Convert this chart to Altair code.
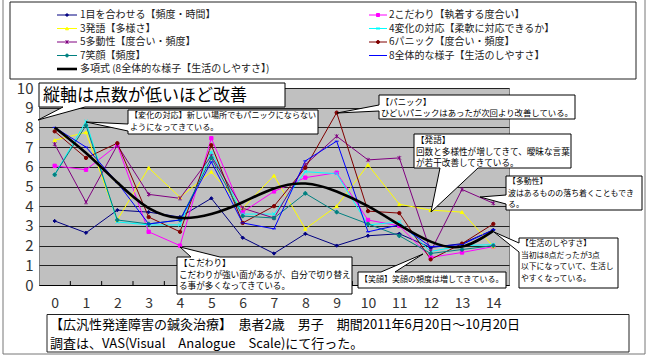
import altair as alt
import pandas as pd

# ---------------- data ----------------
X = list(range(15))
NAMES = [
    "1目を合わせる【頻度・時間】",
    "2こだわり【執着する度合い】",
    "3発語【多様さ】",
    "4変化の対応【柔軟に対応できるか】",
    "5多動性【度合い・頻度】",
    "6パニック【度合い・頻度】",
    "7笑顔【頻度】",
    "8全体的な様子【生活のしやすさ】",
]
TREND_NAME = "多項式 (8全体的な様子【生活のしやすさ】)"
COLORS = ["#000080", "#FF00FF", "#FFFF00", "#00FFFF", "#800080", "#800000", "#008080", "#0000FF"]
SHAPES = ["diamond", "square", "triangle-up", "M-1,-1L1,1M-1,1L1,-1",
          "M-1,-1L1,1M-1,1L1,-1M0,-1.3L0,1.3", "circle", "cross", "M-1.2,0L1.2,0"]

S1 = [3.25, 2.65, 3.8, 3.7, 3.45, 4.4, 2.4, 1.6, 2.6, 2.0, 2.5, 2.6, 1.9, 2.1, 2.8]
S2 = [6.05, 5.85, 7.1, 2.7, 2.0, 7.45, 3.7, 4.75, 5.45, 5.7, 3.3, 3.0, 1.4, 1.65, 1.95]
S3 = [7.35, 7.75, 3.3, 5.95, 4.45, 5.75, 3.9, 5.55, 2.85, 4.0, 6.1, 4.1, 3.8, 3.7, 1.95]
S4 = [5.6, 8.3, 3.2, 3.05, 3.05, 6.75, 3.6, 3.6, 5.75, 5.65, 3.05, 3.2, 1.7, 2.0, 2.05]
S5 = [7.15, 4.2, 7.1, 4.6, 4.4, 6.55, 3.9, 3.4, 6.1, 7.55, 6.35, 6.45, 1.7, 4.85, 4.15]
S6 = [7.8, 6.45, 7.2, 3.45, 2.7, 7.1, 3.15, 4.0, 5.95, 8.75, 3.75, 3.65, 1.3, 2.1, 3.1]
S7 = [5.6, 8.1, 3.3, 3.1, 3.3, 6.45, 3.5, 3.4, 4.65, 3.7, 3.1, 2.5, 1.6, 1.8, 2.0]
S8 = [8.0, 7.0, 5.2, 3.1, 3.3, 6.25, 3.15, 2.85, 6.3, 7.3, 2.7, 3.05, 1.95, 2.05, 2.8]
SERIES = [S1, S2, S3, S4, S5, S6, S7, S8]
TREND = [8.0, 6.7, 5.2, 3.9, 3.4, 3.6, 4.2, 4.9, 5.15, 4.75, 4.0, 3.05, 2.2, 1.95, 2.75]
YTICKS = list(range(11))

LEGEND_LABELS = NAMES + [TREND_NAME]

TITLE_TEXT = "縦軸は点数が低いほど改善"
BOTTOM_LINES = ["【広汎性発達障害の鍼灸治療】　患者2歳　男子　期間2011年6月20日～10月20日",
                "調査は、VAS(Visual　Analogue　Scale)にて行った。"]
NOTE_HENKA = ["【変化の対応】新しい場所でもパニックにならない", "ようになってきている。"]
NOTE_PANIC = ["【パニック】", "ひどいパニックはあったが次回より改善している。"]
NOTE_HATSUGO = ["【発語】", "回数と多様性が増してきて、曖昧な言葉", "が若干改善してきている。"]
NOTE_TADOU = ["【多動性】", "波はあるものの落ち着くこともでき", "る。"]
NOTE_KODAWARI = ["【こだわり】", "こだわりが強い面があるが、自分で切り替え", "る事が多くなってきている。"]
NOTE_EGAO = ["【笑顔】笑顔の頻度は増してきている。"]
NOTE_SEIKATSU = ["【生活のしやすさ】", "当初は8点だったが3点", "以下になっていて、生活し", "やすくなっている。"]

# ---------------- layout ----------------
W, H = 650, 357
PL, PT, PW, PH = 39, 88, 470, 197
FONT = "Noto Sans CJK JP"


def fx(px):
    return -0.5 + (px - PL) / PW * 15


def fy(py):
    return (PT + PH - py) / PH * 10


xs = alt.Scale(domain=[-0.5, 14.5], nice=False, zero=False)
ys = alt.Scale(domain=[0, 10], nice=False, zero=False)
x_axis = alt.Axis(values=X, title=None, ticks=False, grid=False, labelFontSize=14,
                  labelPadding=11, domainColor="black", labelColor="#333",
                  labelFont=FONT, labelAngle=0, format="d")
y_axis = alt.Axis(values=YTICKS, title=None, ticks=False, domain=False, grid=True,
                  gridColor="#222", gridWidth=1, labelFontSize=15, labelPadding=6,
                  labelColor="#333", labelFont=FONT, format="d")


def EX(f="x"):
    return alt.X(f + ":Q", scale=xs, axis=x_axis, title=None)


def EY(f="v"):
    return alt.Y(f + ":Q", scale=ys, axis=y_axis, title=None)


# series data
rows = []
for name, vals in zip(NAMES, SERIES):
    for x, v in zip(X, vals):
        rows.append({"series": name, "x": x, "v": v})
df = pd.DataFrame(rows)
df_tr = pd.DataFrame({"x": X, "v": TREND})

cscale = alt.Scale(domain=NAMES, range=COLORS)
sscale = alt.Scale(domain=NAMES, range=SHAPES)

lines = alt.Chart(df).mark_line(strokeWidth=1).encode(
    x=EX(), y=EY(), color=alt.Color("series:N", scale=cscale, legend=None),
    detail="series:N")
points = alt.Chart(df).mark_point(filled=True, size=11, strokeWidth=1, opacity=1).encode(
    x=EX(), y=EY(),
    fill=alt.Fill("series:N", scale=cscale, legend=None),
    stroke=alt.Stroke("series:N", scale=cscale, legend=None),
    shape=alt.Shape("series:N", scale=sscale, legend=None))
trend = alt.Chart(df_tr).mark_line(color="black", strokeWidth=2.6, interpolate="natural").encode(
    x=EX(), y=EY())

# inner category ticks
df_ticks = pd.DataFrame({"x": [k + 0.5 for k in range(14)], "v": [0] * 14, "v2": [0.2] * 14})
ticks = alt.Chart(df_ticks).mark_rule(color="black", strokeWidth=1).encode(
    x=EX(), y=EY(), y2="v2:Q")

# callouts (box + wedge polygons), pixel geometry
CALLOUTS = {
    "title": [(39, 83), (285, 83), (285, 107), (85, 107), (38, 120), (63, 107), (39, 107)],
    "henka": [(128, 110), (318, 110), (318, 134), (128, 134), (128, 131), (86, 122), (128, 124)],
    "panic": [(379, 95), (575, 95), (575, 119), (379, 119), (379, 111), (337, 113), (379, 105)],
    "hatsugo": [(414, 134), (571, 134), (571, 168), (478, 168), (431, 212), (440, 168), (414, 168)],
    "tadou": [(506, 176), (642, 176), (642, 210), (506, 210), (506, 204), (480, 197), (506, 195)],
    "kodawari": [(177, 257), (191, 257), (180, 247), (220, 257), (352, 257), (352, 294), (177, 294)],
    "egao": [(358, 272), (381, 272), (423, 254), (395, 272), (506, 272), (506, 288), (358, 288)],
    "seikatsu": [(519, 238), (618, 238), (618, 288), (519, 288), (519, 252), (494, 232), (519, 243)],
}
prow = []
for cid, pts in CALLOUTS.items():
    for i, (px, py) in enumerate(pts):
        prow.append({"cid": cid, "ord": i, "x": fx(px), "v": fy(py)})
df_poly = pd.DataFrame(prow)
callouts = alt.Chart(df_poly).mark_line(interpolate="linear-closed", fill="white",
                                        stroke="black", strokeWidth=1).encode(
    x=EX(), y=EY(), detail="cid:N", order="ord:Q")

# rectangles: outer frame, legend box, bottom box
df_frame = pd.DataFrame([{"x": fx(3), "x2": fx(645), "v": fy(-5), "v2": fy(354)}])
frame = alt.Chart(df_frame).mark_rect(fillOpacity=0, stroke="#777", strokeWidth=1).encode(
    x=EX(), x2="x2:Q", y=EY(), y2="v2:Q")
df_boxes = pd.DataFrame([
    {"x": fx(10), "x2": fx(636), "v": fy(2), "v2": fy(79)},
    {"x": fx(47), "x2": fx(629), "v": fy(314.5), "v2": fy(352)},
])
boxes = alt.Chart(df_boxes).mark_rect(fill="white", stroke="#222", strokeWidth=1).encode(
    x=EX(), x2="x2:Q", y=EY(), y2="v2:Q")

# legend
ROW_Y = [15, 28.5, 42, 55.5, 69]
lrows = []
for i, lab in enumerate(LEGEND_LABELS):
    col, row = i % 2, i // 2
    x0, x1, xt = (57, 77, 80) if col == 0 else (369, 387, 389)
    is_tr = i == len(NAMES)
    lrows.append({"label": lab, "x": fx(x0), "x2": fx(x1), "xm": fx((x0 + x1) / 2),
                  "xt": fx(xt), "v": fy(ROW_Y[row]),
                  "color": "black" if is_tr else COLORS[i],
                  "shape": "circle" if is_tr else SHAPES[i],
                  "sw": 2.6 if is_tr else 1.0})
df_leg = pd.DataFrame(lrows)
leg_lines = alt.Chart(df_leg).mark_rule().encode(
    x=EX(), x2="x2:Q", y=EY(), color=alt.Color("color:N", scale=None),
    strokeWidth=alt.StrokeWidth("sw:Q", scale=None))
leg_pts = alt.Chart(df_leg.iloc[:len(NAMES)]).mark_point(filled=True, size=9, strokeWidth=1, opacity=1).encode(
    x=EX("xm"), y=EY(), fill=alt.Fill("color:N", scale=None),
    stroke=alt.Stroke("color:N", scale=None), shape=alt.Shape("shape:N", scale=None))
leg_text = alt.Chart(df_leg).mark_text(align="left", baseline="middle", font=FONT,
                                       fontSize=10, color="#222").encode(
    x=EX("xt"), y=EY(), text="label:N")

# texts
TEXTS = []


def add_lines(lines_, x0, y0, dy, fs):
    for k, t in enumerate(lines_):
        TEXTS.append({"t": t, "x": fx(x0), "v": fy(y0 + k * dy), "fs": fs})


add_lines([TITLE_TEXT], 43, 95.5, 0, 17)
add_lines(NOTE_HENKA, 130, 116, 12, 8.1)
add_lines(NOTE_PANIC, 381, 102, 11, 8.4)
add_lines(NOTE_HATSUGO, 416, 140, 11.5, 8.6)
add_lines(NOTE_TADOU, 508, 182, 11.5, 7.9)
add_lines(NOTE_KODAWARI, 179, 263, 11.5, 8.6)
add_lines(NOTE_EGAO, 360, 280, 0, 8.0)
add_lines(NOTE_SEIKATSU, 521, 244, 11.5, 7.8)
add_lines(BOTTOM_LINES, 50, 324.5, 19, 13)
df_txt = pd.DataFrame(TEXTS)
texts = alt.Chart(df_txt).mark_text(align="left", baseline="middle", font=FONT, color="black").encode(
    x=EX(), y=EY(), text="t:N", size=alt.Size("fs:Q", scale=None))

chart = alt.layer(
    frame, ticks, lines, points, trend, callouts, boxes,
    leg_lines, leg_pts, leg_text, texts
).properties(
    width=PW, height=PH,
    padding={"left": PL, "top": PT, "right": W - PL - PW, "bottom": H - PT - PH},
    autosize=alt.AutoSizeParams(type="none"),
    background="white",
).configure_view(fill="#C0C0C0", stroke="#808080")

chart.save("out.html", embed_options={"renderer": "svg", "actions": False})
